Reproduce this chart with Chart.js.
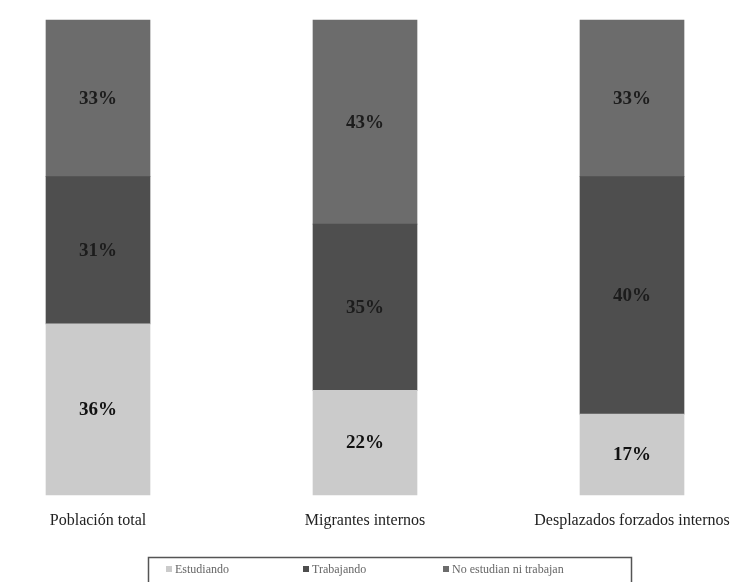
<!DOCTYPE html>
<html>
<head>
<meta charset="utf-8">
<script src="https://cdn.jsdelivr.net/npm/chart.js@4/dist/chart.umd.min.js"></script>
<style>
    html, body { margin: 0; padding: 0; background: #fff; }
    #wrap { width: 753px; height: 582px; }
</style>
</head>
<body>
<div id="wrap"><canvas id="grafico"></canvas></div>
<script>
// Datos
const categorias = ['Población total', 'Migrantes internos', 'Desplazados forzados internos'];
const estudiando = [36, 22, 17];
const trabajando = [31, 35, 50];
const noEstudianNiTrabajan = [33, 43, 33];

// Textos impresos en cada segmento (tal como aparecen)
const textoEstudiando = ['36%', '22%', '17%'];
const textoTrabajando = ['31%', '35%', '40%'];
const textoNoEstudian = ['33%', '43%', '33%'];

const COLORES = {
    claro: '#cbcbcb',
    oscuro: '#4e4e4e',
    medio: '#6c6c6c'
};

const SERIF = '"Liberation Serif", "DejaVu Serif", serif';

// Etiquetas de porcentaje centradas en cada segmento
const etiquetasPlugin = {
    id: 'etiquetas',
    afterDatasetsDraw(chart) {
        const ctx = chart.ctx;
        ctx.save();
        ctx.font = 'bold 19px ' + SERIF;
        ctx.textAlign = 'center';
        ctx.textBaseline = 'middle';
        chart.data.datasets.forEach((ds, i) => {
            const meta = chart.getDatasetMeta(i);
            meta.data.forEach((bar, j) => {
                const y = (bar.y + bar.base) / 2;
                ctx.fillStyle = i === 0 ? '#111' : '#1c1c1c';
                ctx.fillText(ds.textos[j], bar.x, y + 1);
            });
        });
        ctx.restore();
    }
};

// Leyenda enmarcada, dibujada a mano
const leyendaPlugin = {
    id: 'leyenda',
    afterDraw(chart) {
        const ctx = chart.ctx;
        ctx.save();
        ctx.strokeStyle = '#555';
        ctx.lineWidth = 1.5;
        ctx.strokeRect(148.5, 557.5, 483, 40);
        ctx.font = '12px ' + SERIF;
        ctx.textBaseline = 'middle';
        const posiciones = [166, 303, 443];
        chart.data.datasets.forEach((ds, i) => {
            const x = posiciones[i];
            ctx.fillStyle = ds.backgroundColor;
            ctx.fillRect(x, 566, 6, 6);
            ctx.fillStyle = '#666';
            ctx.fillText(ds.label, x + 9, 569.5);
        });
        ctx.restore();
    }
};

new Chart(document.getElementById('grafico'), {
    type: 'bar',
    data: {
        labels: categorias,
        datasets: [
            { label: 'Estudiando', data: estudiando, textos: textoEstudiando, backgroundColor: COLORES.claro },
            { label: 'Trabajando', data: trabajando, textos: textoTrabajando, backgroundColor: COLORES.oscuro },
            { label: 'No estudian ni trabajan', data: noEstudianNiTrabajan, textos: textoNoEstudian, backgroundColor: COLORES.medio }
        ].map(ds => ({
            ...ds,
            barThickness: 104,
            borderWidth: 0,
            clip: false
        }))
    },
    options: {
        responsive: true,
        maintainAspectRatio: false,
        animation: false,
        layout: {
            padding: { top: 20, bottom: 44, left: 98, right: 121 }
        },
        plugins: {
            legend: { display: false },
            tooltip: { enabled: false }
        },
        scales: {
            x: {
                stacked: true,
                offset: false,
                grid: { display: false },
                border: { display: false },
                ticks: {
                    font: { family: SERIF, size: 16 },
                    color: '#222',
                    padding: 8,
                    maxRotation: 0
                }
            },
            y: {
                stacked: true,
                display: false,
                min: 0,
                max: 100
            }
        }
    },
    plugins: [etiquetasPlugin, leyendaPlugin]
});
</script>
</body>
</html>
